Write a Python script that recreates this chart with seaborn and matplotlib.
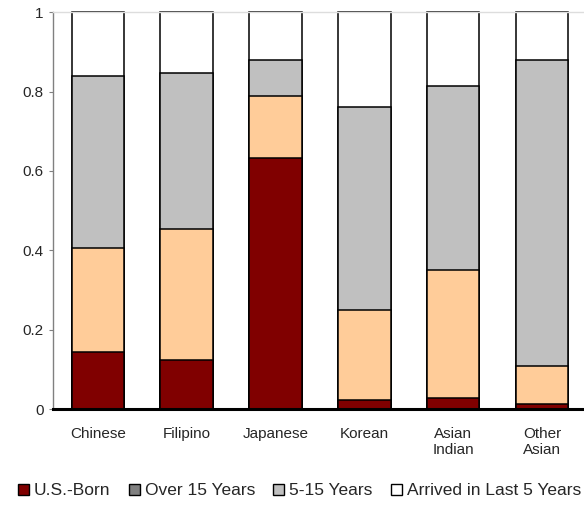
import matplotlib
matplotlib.use("Agg")
import matplotlib.pyplot as plt
from matplotlib.patches import Patch
import numpy as np
import pandas as pd
import seaborn as sns

# Share of each Asian-American group by nativity / time since arrival
groups = ["Chinese", "Filipino", "Japanese", "Korean", "Asian\nIndian", "Other\nAsian"]
us_born = [0.144, 0.123, 0.633, 0.023, 0.028, 0.013]
over_15 = [0.262, 0.332, 0.155, 0.226, 0.323, 0.095]
yrs_5_15 = [0.433, 0.393, 0.091, 0.513, 0.463, 0.771]
last_5 = [0.161, 0.152, 0.121, 0.238, 0.186, 0.121]

series_names = ["U.S.-Born", "Over 15 Years", "5-15 Years", "Arrived in Last 5 Years"]
bar_colors = ["#800000", "#FFCC99", "#C0C0C0", "#FFFFFF"]
legend_colors = ["#800000", "#808080", "#C0C0C0", "#FFFFFF"]

sns.set_theme(style="white")
plt.rcParams["font.family"] = ["Liberation Sans", "DejaVu Sans"]

df = pd.DataFrame({
    "group": groups,
    "U.S.-Born": us_born,
    "Over 15 Years": over_15,
    "5-15 Years": yrs_5_15,
    "Arrived in Last 5 Years": last_5,
})
cum = df[series_names].cumsum(axis=1)

fig = plt.figure(figsize=(5.84, 5.07), dpi=100)
ax = fig.add_axes([0.0915, 0.193, 0.9127, 0.783])

# Stack by drawing cumulative totals from the top layer down
for name, color in reversed(list(zip(series_names, bar_colors))):
    sns.barplot(x=df["group"], y=cum[name], color=color, width=0.59,
                edgecolor="black", linewidth=1.1, saturation=1,
                clip_on=False, ax=ax)

ax.set_ylim(0, 1)
ax.set_xlim(-0.5, len(groups) - 0.5)
ax.set_yticks([0, 0.2, 0.4, 0.6, 0.8, 1.0])
ax.set_yticklabels(["0", "0.2", "0.4", "0.6", "0.8", "1"])
ax.set_xlabel("")
ax.set_ylabel("")
ax.tick_params(axis="y", left=True, length=3, width=0.8, color="#808080",
               labelsize=11, pad=4)
ax.tick_params(axis="x", bottom=False, labelsize=11, pad=7)

ax.spines["right"].set_visible(False)
ax.spines["top"].set_color("#DDDDDD")
ax.spines["top"].set_linewidth(1.0)
ax.spines["left"].set_color("#808080")
ax.spines["left"].set_linewidth(1.0)
ax.spines["bottom"].set_color("black")
ax.spines["bottom"].set_linewidth(2.2)
ax.spines["bottom"].set_zorder(5)

handles = [Patch(facecolor=c, edgecolor="black", linewidth=1.0, label=n)
           for n, c in zip(series_names, legend_colors)]
fig.legend(handles=handles, loc="center", bbox_to_anchor=(0.513, 0.032),
           ncol=4, frameon=False, fontsize=12.5, handlelength=0.62,
           handleheight=0.62, handletextpad=0.3, columnspacing=1.05,
           borderaxespad=0, borderpad=0)

fig.savefig("out.png", dpi=100)
